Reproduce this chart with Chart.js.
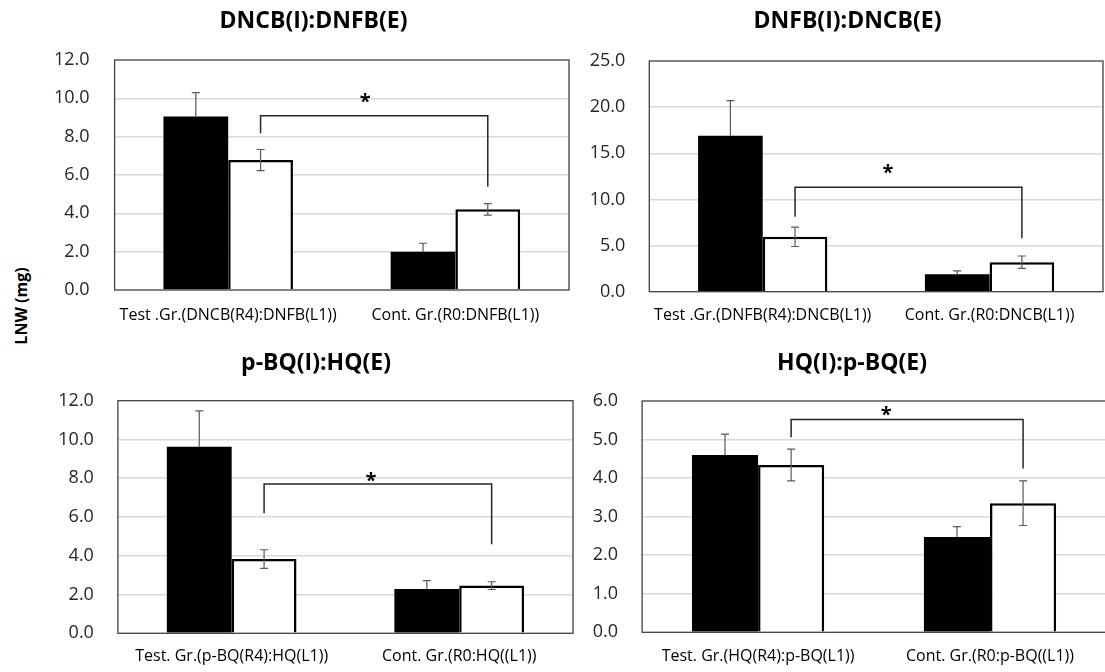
<!DOCTYPE html>
<html>
<head>
<meta charset="utf-8">
<script src="https://cdn.jsdelivr.net/npm/chart.js@4.4.1/dist/chart.umd.min.js"></script>
<style>
  html, body { margin: 0; padding: 0; background: #fff; overflow: hidden; }
  body { width: 1105px; height: 672px; position: relative; }
  canvas { position: absolute; }
  #ylabel {
    position: absolute; left: 21px; top: 306px;
    transform: translate(-50%, -50%) rotate(-90deg);
    font: bold 16px "Open Sans", sans-serif; white-space: nowrap; color: #000;
  }
</style>
</head>
<body>
<div id="ylabel">LNW (mg)</div>
<script>
// chart titles
const titles = ["DNCB(I):DNFB(E)", "DNFB(I):DNCB(E)", "p-BQ(I):HQ(E)", "HQ(I):p-BQ(E)"];

// categories for each panel
const groupsA = ["Test .Gr.(DNCB(R4):DNFB(L1))", "Cont. Gr.(R0:DNFB(L1))"];
const groupsB = ["Test .Gr.(DNFB(R4):DNCB(L1))", "Cont. Gr.(R0:DNCB(L1))"];
const groupsC = ["Test. Gr.(p-BQ(R4):HQ(L1))", "Cont. Gr.(R0:HQ((L1))"];
const groupsD = ["Test. Gr.(HQ(R4):p-BQ(L1))", "Cont. Gr.(R0:p-BQ((L1))"];

// black bars (I) and white bars (E), with error values
const blackA = [9.05, 2.0];   const blackErrA = [1.25, 0.44];
const whiteA = [6.78, 4.21];  const whiteErrA = [0.55, 0.3];
const blackB = [16.9, 1.9];   const blackErrB = [3.8, 0.35];
const whiteB = [5.95, 3.2];   const whiteErrB = [1.05, 0.67];
const blackC = [9.63, 2.29];  const blackErrC = [1.84, 0.43];
const whiteC = [3.83, 2.46];  const whiteErrC = [0.48, 0.2];
const blackD = [4.6, 2.47];   const blackErrD = [0.54, 0.27];
const whiteD = [4.34, 3.35];  const whiteErrD = [0.41, 0.58];

// y tick values
const ticksA = [0, 2, 4, 6, 8, 10, 12];
const ticksB = [0, 5, 10, 15, 20, 25];
const ticksC = [0, 2, 4, 6, 8, 10, 12];
const ticksD = [0, 1, 2, 3, 4, 5, 6];

// significance bracket: top, left leg end, right leg end, star
const bracketA = [9.09, 8.18, 5.39, 10.0];
const bracketB = [11.31, 8.13, 5.79, 13.26];
const bracketC = [7.7, 6.19, 4.59, 8.05];
const bracketD = [5.52, 5.06, 4.25, 5.75];

// page layout for each panel (page pixels)
const panels = [
  { title: titles[0], groups: groupsA, black: blackA, blackErr: blackErrA, white: whiteA, whiteErr: whiteErrA,
    ticks: ticksA, bracket: bracketA, starAt: 0.46,
    box: { x: 40, y: 0, w: 547, h: 332 }, plot: { l: 114.6, r: 569, t: 60, b: 290 }, titleY: 21.7, labelY: 315, tickPad: 25 },
  { title: titles[1], groups: groupsB, black: blackB, blackErr: blackErrB, white: whiteB, whiteErr: whiteErrB,
    ticks: ticksB, bracket: bracketB, starAt: 0.41,
    box: { x: 575, y: 0, w: 545, h: 332 }, plot: { l: 649.3, r: 1103, t: 61, b: 291.7 }, titleY: 21.7, labelY: 315, tickPad: 24 },
  { title: titles[2], groups: groupsC, black: blackC, blackErr: blackErrC, white: whiteC, whiteErr: whiteErrC,
    ticks: ticksC, bracket: bracketC, starAt: 0.47,
    box: { x: 40, y: 332, w: 552, h: 340 }, plot: { l: 117.9, r: 573, t: 400.7, b: 633.3 }, titleY: 363.3, labelY: 656.7, tickPad: 24 },
  { title: titles[3], groups: groupsD, black: blackD, blackErr: blackErrD, white: whiteD, whiteErr: whiteErrD,
    ticks: ticksD, bracket: bracketD, starAt: 0.41,
    box: { x: 588, y: 332, w: 528, h: 340 }, plot: { l: 642.1, r: 1106, t: 401, b: 632.3 }, titleY: 363.3, labelY: 656.7, tickPad: 24 },
];

Chart.defaults.font.family = "'Open Sans', sans-serif";
Chart.defaults.color = "#262626";

// outer frame of the plot area
const frame = {
  id: "frame",
  afterDatasetsDraw(chart) {
    const { ctx, chartArea: a } = chart;
    ctx.save();
    ctx.strokeStyle = "#404040";
    ctx.lineWidth = 1.3;
    ctx.strokeRect(a.left, a.top, a.right - a.left, a.bottom - a.top);
    ctx.restore();
  },
};

// error bars, black bars only show the upper half
function whiskers(p) {
  return {
    id: "whiskers",
    afterDatasetsDraw(chart) {
      const { ctx, scales: { y } } = chart;
      const errs = [p.blackErr, p.whiteErr];
      ctx.save();
      ctx.strokeStyle = "#595959";
      ctx.lineWidth = 1.2;
      errs.forEach((e, di) => {
        const plusOnly = di === 0;
        chart.getDatasetMeta(di).data.forEach((bar, i) => {
          const v = chart.data.datasets[di].data[i];
          const hi = y.getPixelForValue(v + e[i]);
          const lo = y.getPixelForValue(plusOnly ? v : v - e[i]);
          ctx.beginPath();
          ctx.moveTo(bar.x, hi); ctx.lineTo(bar.x, lo);
          ctx.moveTo(bar.x - 4, hi); ctx.lineTo(bar.x + 4, hi);
          if (!plusOnly) { ctx.moveTo(bar.x - 4, lo); ctx.lineTo(bar.x + 4, lo); }
          ctx.stroke();
        });
      });
      ctx.restore();
    },
  };
}

// bracket between the two white bars, with the star
function bracket(p) {
  return {
    id: "bracket",
    afterDatasetsDraw(chart) {
      const { ctx, scales: { y } } = chart;
      const white = chart.getDatasetMeta(1).data;
      const [top, leftEnd, rightEnd, star] = p.bracket;
      const x1 = white[0].x, x2 = white[1].x;
      ctx.save();
      ctx.strokeStyle = "#262626";
      ctx.lineWidth = 1.5;
      ctx.beginPath();
      ctx.moveTo(x1, y.getPixelForValue(leftEnd));
      ctx.lineTo(x1, y.getPixelForValue(top));
      ctx.lineTo(x2, y.getPixelForValue(top));
      ctx.lineTo(x2, y.getPixelForValue(rightEnd));
      ctx.stroke();
      ctx.font = "bold 20px 'Open Sans'";
      ctx.fillStyle = "#000";
      ctx.textAlign = "center";
      ctx.textBaseline = "alphabetic";
      const m = ctx.measureText("*");
      const cy = y.getPixelForValue(star);
      ctx.fillText("*", x1 + (x2 - x1) * p.starAt, cy + (m.actualBoundingBoxAscent - m.actualBoundingBoxDescent) / 2);
      ctx.restore();
    },
  };
}

panels.forEach((p) => {
  const b = p.box;
  const canvas = document.createElement("canvas");
  canvas.width = b.w;
  canvas.height = b.h;
  canvas.style.left = b.x + "px";
  canvas.style.top = b.y + "px";
  document.body.appendChild(canvas);

  const plotL = p.plot.l - b.x, plotR = p.plot.r - b.x;
  const plotT = p.plot.t - b.y, plotB = p.plot.b - b.y;
  const titleSize = 23, titleLine = titleSize * 1.2;
  const titleTop = p.titleY - b.y - titleLine / 2;
  const labelSize = 16;
  const labelPad = p.labelY - p.plot.b - (labelSize * 1.2) / 2;
  const yMax = p.ticks[p.ticks.length - 1];

  new Chart(canvas, {
    type: "bar",
    data: {
      labels: p.groups,
      datasets: [
        { label: "I", data: p.black, backgroundColor: "#000", borderColor: "#000", borderWidth: 0, yAxisID: "y" },
        { label: "E", data: p.white, backgroundColor: "#fff", borderColor: "#000", borderWidth: 2.5, yAxisID: "y" },
      ],
    },
    options: {
      responsive: false,
      animation: false,
      events: [],
      categoryPercentage: 0.57,
      barPercentage: 1.0,
      layout: { padding: 0 },
      plugins: {
        legend: { display: false },
        tooltip: { enabled: false },
        title: {
          display: true,
          text: p.title,
          color: "#000",
          font: { size: titleSize, weight: "bold" },
          padding: { top: titleTop, bottom: plotT - titleTop - titleLine },
        },
      },
      scales: {
        x: {
          afterFit: (s) => { s.height = b.h - plotB; },
          ticks: { padding: labelPad, font: { size: labelSize }, color: "#000", maxRotation: 0, autoSkip: false },
          grid: { display: false, drawTicks: false },
          border: { display: false },
        },
        y: {
          type: "linear",
          position: "left",
          min: 0,
          max: yMax,
          afterBuildTicks: (s) => { s.ticks = p.ticks.map((v) => ({ value: v })); },
          afterFit: (s) => { s.width = plotL; },
          ticks: { padding: p.tickPad, font: { size: 18 }, color: "#262626", callback: (v) => Number(v).toFixed(1) },
          grid: {
            drawTicks: false,
            lineWidth: 1.5,
            color: (c) => (c.tick && (c.tick.value === 0 || c.tick.value === yMax) ? "rgba(0,0,0,0)" : "#d9d9d9"),
          },
          border: { display: false },
        },
        // empty right axis, only keeps space so the title stays centred on the canvas
        pad: {
          type: "linear",
          position: "right",
          afterFit: (s) => { s.width = b.w - plotR; },
          ticks: { display: false },
          grid: { display: false, drawTicks: false },
          border: { display: false },
        },
      },
    },
    plugins: [frame, whiskers(p), bracket(p)],
  });
});
</script>
</body>
</html>
